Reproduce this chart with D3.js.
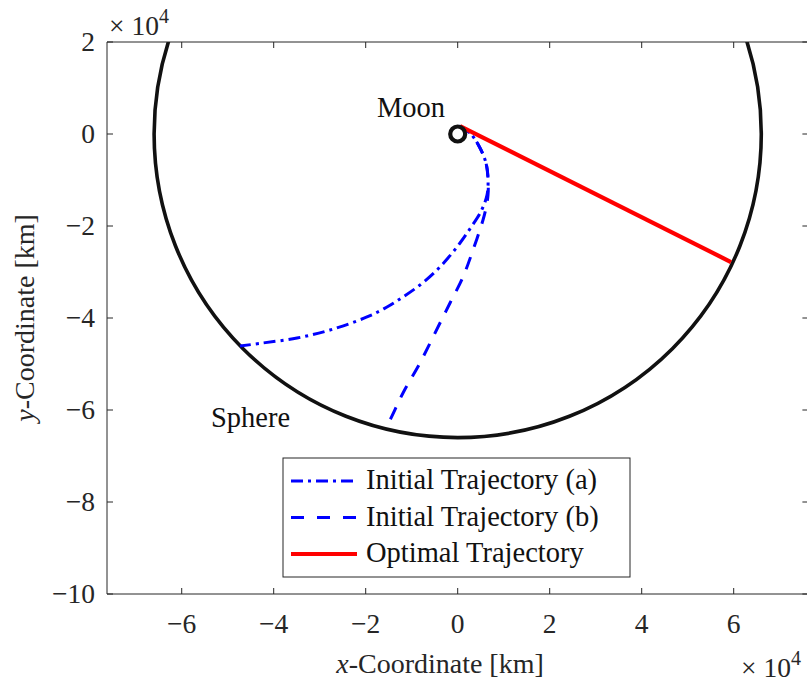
<!DOCTYPE html>
<html><head><meta charset="utf-8">
<script src="https://cdn.jsdelivr.net/npm/d3@7"></script>
</head><body style="margin:0;background:#fff">
<script>
// ---- data (km) ----
const xTicks = [-60000,-40000,-20000,0,20000,40000,60000];
const yTicks = [20000,0,-20000,-40000,-60000,-80000,-100000];
const sphereRadius = 66000;
const moonRadius = 1737;
const trajA_x = [300,2670,4850,6150,6590,6370,5000,2800,500,-2110,-4930,-8200,-11890,-15370,-19720,-27760,-34930,-42330,-47330];
const trajA_y = [1737,220,-3040,-6300,-9570,-13260,-16960,-20400,-23700,-26960,-30000,-32830,-35430,-37610,-39780,-42610,-44350,-45430,-46090];
const trajB_x = [300,2670,4850,6150,6590,6590,6150,5500,3330,1150,-1670,-3850,-8200,-11890,-14720,-15590];
const trajB_y = [1737,220,-3040,-6300,-9570,-13260,-16090,-18700,-25220,-31090,-36740,-41090,-49780,-56300,-62170,-63700];
const optX = [500,59410];
const optY = [1737,-27830];
const legendLabels = ["Initial Trajectory (a)","Initial Trajectory (b)","Optimal Trajectory"];

const W=807,H=682;
const L=107,T=42,B=594;
const FONT='"Liberation Serif"';
const svg=d3.select("body").append("svg").attr("width",W).attr("height",H).style("display","block");
const x=d3.scaleLinear().domain([-76240,76240]).range([L,L+701.4]);
const y=d3.scaleLinear().domain([-100000,20000]).range([B,T]);
const R=x.range()[1];
const axisCol="#262626";
function txt(sel,xp,yp,size,col){
  return sel.append("text").attr("x",xp).attr("y",yp).style("font-family",FONT).style("font-size",size+"px").attr("fill",col||"#262626");
}

svg.append("clipPath").attr("id","clip").append("rect").attr("x",L).attr("y",T).attr("width",R-L).attr("height",B-T);
const g=svg.append("g").attr("clip-path","url(#clip)");

// sphere
g.append("circle").attr("cx",x(0)).attr("cy",y(0)).attr("r",x(sphereRadius)-x(0))
 .attr("fill","none").attr("stroke","#111").attr("stroke-width",3.6);

const line=d3.line().x(d=>x(d[0])).y(d=>y(d[1])).curve(d3.curveCatmullRom);
const A=trajA_x.map((v,i)=>[v,trajA_y[i]]);
const Bp=trajB_x.map((v,i)=>[v,trajB_y[i]]);
const O=optX.map((v,i)=>[v,optY[i]]);
g.append("path").attr("d",line(Bp)).attr("fill","none").attr("stroke","#0000ff").attr("stroke-width",3).attr("stroke-dasharray","13,11");
g.append("path").attr("d",line(A)).attr("fill","none").attr("stroke","#0000ff").attr("stroke-width",3).attr("stroke-dasharray","12,5,3,5");
g.append("path").attr("d",d3.line().x(d=>x(d[0])).y(d=>y(d[1]))(O)).attr("fill","none").attr("stroke","#ff0000").attr("stroke-width",4.2);

// moon
g.append("circle").attr("cx",x(0)).attr("cy",y(0)).attr("r",x(moonRadius)-x(0)-0.5)
 .attr("fill","none").attr("stroke","#111").attr("stroke-width",4.2);

// labels
txt(svg,377,117,28.5,"#111").text("Moon");
txt(svg,211,427,28.5,"#111").text("Sphere");

// axes box
svg.append("line").attr("x1",L).attr("x2",R).attr("y1",T).attr("y2",T).attr("stroke",axisCol);
svg.append("line").attr("x1",L).attr("x2",R).attr("y1",B).attr("y2",B).attr("stroke",axisCol);
svg.append("line").attr("x1",L).attr("x2",L).attr("y1",T).attr("y2",B).attr("stroke",axisCol);
svg.append("line").attr("x1",R).attr("x2",R).attr("y1",T).attr("y2",B).attr("stroke",axisCol);

const fmt=v=>{const n=v/10000;return n<0?"\u2212"+Math.abs(n):String(n);};
const tl=6;
xTicks.forEach(t=>{
  svg.append("line").attr("x1",x(t)).attr("x2",x(t)).attr("y1",B).attr("y2",B-tl).attr("stroke",axisCol);
  svg.append("line").attr("x1",x(t)).attr("x2",x(t)).attr("y1",T).attr("y2",T+tl).attr("stroke",axisCol);
  txt(svg,x(t),633,27.5).attr("text-anchor","middle").text(fmt(t));
});
yTicks.forEach(t=>{
  svg.append("line").attr("x1",L).attr("x2",L+tl).attr("y1",y(t)).attr("y2",y(t)).attr("stroke",axisCol);
  svg.append("line").attr("x1",R).attr("x2",R-tl).attr("y1",y(t)).attr("y2",y(t)).attr("stroke",axisCol);
  txt(svg,95,y(t)+9,27.5).attr("text-anchor","end").text(fmt(t));
});

// exponent labels
function expo(xp,yp){
  const t=txt(svg,xp,yp,27.5);
  t.append("tspan").text("\u00d7 10");
  t.append("tspan").attr("dy",-12).style("font-size","20px").text("4");
}
expo(109,35);
expo(741,677);

// axis titles
const xl=txt(svg,440,673,28).attr("text-anchor","middle");
xl.append("tspan").style("font-style","italic").text("x");
xl.append("tspan").text("-Coordinate [km]");
const yl=svg.append("text").attr("transform","translate(34,318) rotate(-90)").attr("text-anchor","middle")
  .style("font-family",FONT).style("font-size","28px").attr("fill","#262626");
yl.append("tspan").style("font-style","italic").text("y");
yl.append("tspan").text("-Coordinate [km]");

// legend
const lg=svg.append("g");
lg.append("rect").attr("x",283).attr("y",458).attr("width",347).attr("height",119).attr("fill","#fff").attr("stroke",axisCol).attr("stroke-width",1);
const styles=[{c:"#0000ff",w:3,d:"12,5,3,5"},{c:"#0000ff",w:3,d:"13,13"},{c:"#ff0000",w:4.2,d:null}];
legendLabels.forEach((s,i)=>{
  const cy=481+i*36.5;
  const ln=lg.append("line").attr("x1",291).attr("x2",357).attr("y1",cy).attr("y2",cy).attr("stroke",styles[i].c).attr("stroke-width",styles[i].w);
  if(styles[i].d) ln.attr("stroke-dasharray",styles[i].d);
  txt(lg,366,cy+8,28.5,"#111").text(s);
});
</script>
</body></html>
